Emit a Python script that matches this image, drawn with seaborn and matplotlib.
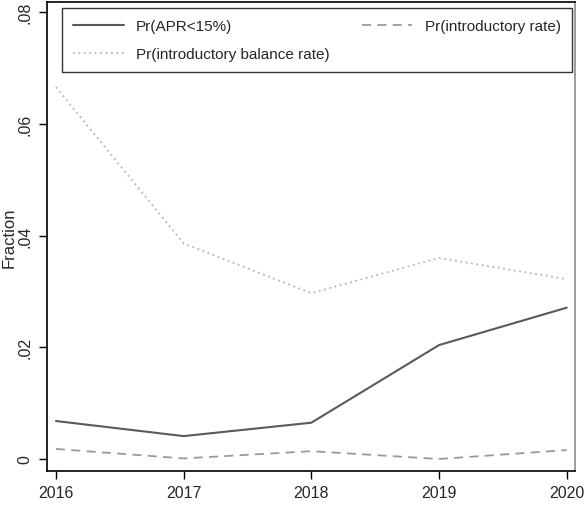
import matplotlib
matplotlib.use("Agg")
import matplotlib.pyplot as plt
import seaborn as sns
import pandas as pd

years = [2016, 2017, 2018, 2019, 2020]
apr_below_15 = [0.0068, 0.0041, 0.0065, 0.0204, 0.0271]
intro_balance = [0.0666, 0.0386, 0.0297, 0.0360, 0.0322]
intro_rate = [0.0018, 0.0001, 0.0014, 0.0000, 0.0016]

y_ticks = [0, 0.02, 0.04, 0.06, 0.08]
y_tick_labels = ["0", ".02", ".04", ".06", ".08"]

sns.set_style("white")
plt.rcParams["font.family"] = ["Liberation Sans", "DejaVu Sans"]

W, H = 584, 506
fig = plt.figure(figsize=(W / 100, H / 100), dpi=100)
ax_l, ax_r, ax_t, ax_b = 46.5, 575, 3, 472
ax = fig.add_axes([ax_l / W, 1 - ax_b / H, (ax_r - ax_l) / W, (ax_b - ax_t) / H])

df = pd.DataFrame({
    "year": years,
    "apr": apr_below_15,
    "bal": intro_balance,
    "intro": intro_rate,
})

sns.lineplot(data=df, x="year", y="apr", ax=ax, color="#5a5a5a", lw=1.5,
             linestyle="-", label="Pr(APR<15%)")
sns.lineplot(data=df, x="year", y="bal", ax=ax, color="#b5b5b5", lw=1.3,
             linestyle=(0, (1, 2)), label="Pr(introductory balance rate)")
sns.lineplot(data=df, x="year", y="intro", ax=ax, color="#9a9a9a", lw=1.3,
             linestyle=(0, (5, 3.5)), label="Pr(introductory rate)")

ax.set_xlim(2015.926, 2020.065)
ax.set_ylim(-0.00215, 0.08184)
ax.set_xticks(years)
ax.set_xticklabels([str(y) for y in years], fontsize=11.5)
ax.set_yticks(y_ticks)
ax.set_yticklabels(y_tick_labels, fontsize=11.5, rotation=90, va="center")
ax.tick_params(axis="both", direction="out", length=6, width=1, color="black",
               bottom=True, left=True, pad=4)
ax.set_xlabel("")
ax.set_ylabel("Fraction", fontsize=12, labelpad=1)

for side in ["left", "top", "bottom"]:
    ax.spines[side].set_visible(True)
    ax.spines[side].set_color("black")
    ax.spines[side].set_linewidth(1.2)
ax.spines["right"].set_visible(True)
ax.spines["right"].set_color("#8a8a8a")
ax.spines["right"].set_linewidth(1.2)

handles, labels = ax.get_legend_handles_labels()
order = ["Pr(APR<15%)", "Pr(introductory balance rate)", "Pr(introductory rate)"]
hl = dict(zip(labels, handles))

# legend box spans from x=62 to 572 px and y=9 to 72 px
lx0 = (62 - ax_l) / (ax_r - ax_l)
lx1 = (572 - ax_l) / (ax_r - ax_l)
ly_top = (ax_b - 9) / (ax_b - ax_t)
ly_bot = (ax_b - 72) / (ax_b - ax_t)
leg = ax.legend([hl[k] for k in order], order, loc="upper left", ncol=2,
                frameon=True, fontsize=11,
                bbox_to_anchor=(lx0, ly_bot, lx1 - lx0, ly_top - ly_bot),
                mode="expand", borderaxespad=0,
                handlelength=3.3, handletextpad=0.8, columnspacing=2,
                borderpad=0.74, labelspacing=0.89, fancybox=False)
leg.get_frame().set_edgecolor("black")
leg.get_frame().set_linewidth(1.0)

fig.savefig("out.png", dpi=100)
